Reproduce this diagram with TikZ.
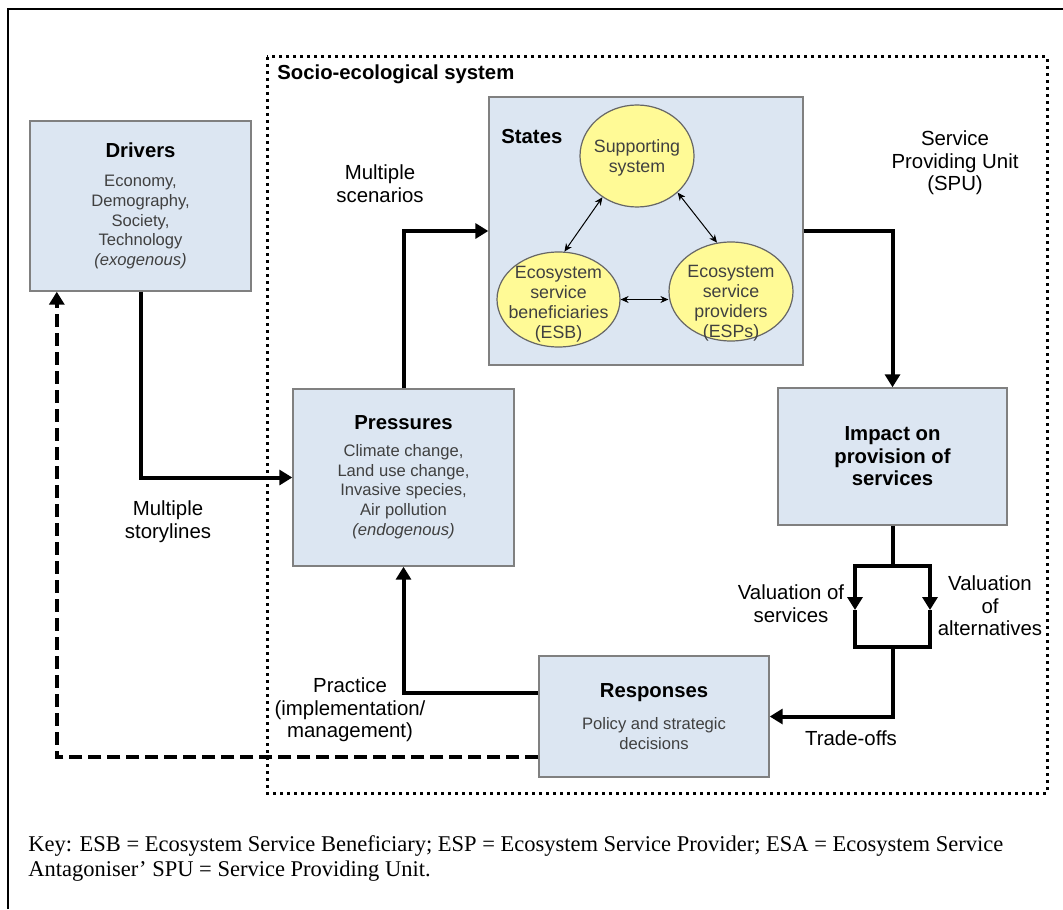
\documentclass[tikz,border=0pt]{standalone}
\usepackage{fontspec}
\setmainfont{Liberation Sans}
\newfontfamily\keyfont{Liberation Serif}
\usetikzlibrary{positioning,calc,arrows.meta,shapes.geometric}

\definecolor{boxblue}{RGB}{220,230,242}
\definecolor{boxedge}{RGB}{128,128,128}
\definecolor{ellyellow}{RGB}{255,250,150}
\definecolor{txtgray}{RGB}{64,64,64}

\newcommand{\hdfont}{\fontsize{10.15}{11.25}\selectfont\bfseries}
\newcommand{\bdfont}{\fontsize{8.3}{9.9}\selectfont}
\newcommand{\lbfont}{\fontsize{10.2}{11.25}\selectfont}

\begin{document}
\begin{tikzpicture}[x=0.5pt,y=-0.5pt,
  box/.style={draw=boxedge,fill=boxblue,line width=0.7pt,inner sep=0pt,align=center,text=txtgray},
  ell/.style={ellipse,draw=boxedge!80!black,fill=ellyellow,line width=0.6pt,inner sep=0pt},
  elltext/.style={align=center,text=txtgray,font=\fontsize{8.9}{10}\selectfont},
  flow/.style={line width=2pt,-{Triangle[length=6.5pt,width=7.5pt]}},
  link/.style={line width=2pt},
  twoway/.style={line width=0.5pt,{Stealth[length=4pt,width=3.5pt]}-{Stealth[length=4pt,width=3.5pt]}},
  lbl/.style={font=\lbfont,align=center}]
\useasboundingbox (0,0) rectangle (1063,909);
% frame and system boundary
\draw[line width=1pt] (8,909) -- (8,9) -- (1063,9);
\draw[line width=1.5pt,dash pattern=on 1.5pt off 2pt] (267,57) rectangle (1047,793);
\node[anchor=west,inner sep=0pt,font=\hdfont] (sestitle) at (277,74) {Socio-ecological system};

% boxes
\node[box,minimum width=110.5pt,minimum height=85pt,font=\bdfont] (drv) at (140.5,206)
  {{\hdfont\color{black}Drivers}\\[4.6pt]Economy,\\Demography,\\Society,\\Technology\\\textit{(exogenous)}};
\node[box,minimum width=110.5pt,minimum height=88.5pt,font=\bdfont] (prs) at (403.5,477.5)
  {{\hdfont\color{black}Pressures}\\[3.3pt]Climate change,\\Land use change,\\Invasive species,\\Air pollution\\\textit{(endogenous)}};
\node[box,minimum width=157pt,minimum height=134pt] (sts) at (646,231) {};
\node[anchor=west,inner sep=0pt,font=\hdfont] (ststitle) at (501,137) {States};
\node[box,minimum width=114.5pt,minimum height=68.5pt,font=\hdfont,text=black] (imp) at (892.5,456.5)
  {Impact on\\provision of\\services};
\node[box,minimum width=115pt,minimum height=60.5pt,font=\bdfont] (rsp) at (654,716.5)
  {{\hdfont\color{black}Responses}\\[6.3pt]Policy and strategic\\decisions};

% states
\node[ell,minimum width=57pt,minimum height=51pt] (sup) at (637,156) {};
\node[elltext] (suptext) at (637,158) {Supporting\\system};
\node[ell,minimum width=61.5pt,minimum height=47.5pt] (esb) at (558.5,299.5) {};
\node[elltext] (esbtext) at (558.5,304) {Ecosystem\\service\\beneficiaries\\(ESB)};
\node[ell,minimum width=62pt,minimum height=49.5pt] (esp) at (731,291.5) {};
\node[elltext] (esptext) at (731,303) {Ecosystem\\service\\providers\\(ESPs)};
\draw[twoway] (sup.230) -- (esb.83);
\draw[twoway] (sup.318) -- (esp.106);
\draw[twoway] (esb.east) -- (esb.east -| esp.west);

% main loop
\draw[flow] (drv.south) |- (prs.west);
\draw[flow] (prs.north) |- (sts.west);
\draw[flow] (sts.east) -| (imp.north);
\coordinate (lpt) at (892.5,566);
\coordinate (vl) at (855,610);
\coordinate (vr) at (930,610);
\coordinate (lpb) at (892.5,647);
\draw[link] (imp.south) -- (lpt);
\draw[flow] (lpt) -| (vl);
\draw[flow] (lpt) -| (vr);
\draw[link] (vl) |- (lpb) -| (vr);
\draw[flow] (lpb) |- (rsp.east);
\draw[flow] ($(rsp.west)+(0,-23.5)$) -| (prs.south);
\draw[flow,dash pattern=on 6.5pt off 3pt] ($(rsp.west)+(0,40.5)$) -| ($(drv.south west)+(27.5,0)$);

% labels
\node[lbl] (scen) at (380,183.5) {Multiple\\scenarios};
\node[lbl] (spu) at (955,163) {Service\\Providing Unit\\(SPU)};
\node[lbl] (story) at (168,521.5) {Multiple\\storylines};
\node[lbl] (valsrv) at (791,603.5) {Valuation of\\services};
\node[lbl] (valalt) at (990,606) {Valuation\\of\\alternatives};
\node[lbl] (trade) at (851,738) {Trade-offs};
\node[lbl] (prac) at (350,710) {Practice\\(implementation/\\management)};

% key
\node[anchor=north west,align=left,inner sep=0pt,font=\keyfont\fontsize{11.25}{12.5}\selectfont] (key) at (28,835)
  {Key: ESB = Ecosystem Service Beneficiary; ESP = Ecosystem Service Provider; ESA = Ecosystem Service\\Antagoniser’ SPU = Service Providing Unit.};
\end{tikzpicture}
\end{document}
